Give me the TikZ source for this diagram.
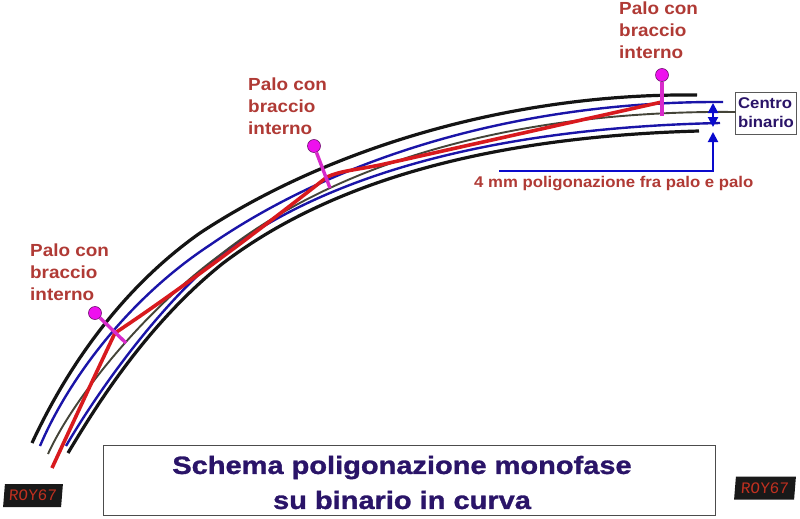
\documentclass[tikz,border=0pt]{standalone}
\usepackage{fontspec}
\setmainfont{Liberation Sans}
\newfontfamily\labfont{Liberation Sans Bold}[FakeStretch=1.08]
\newfontfamily\titlefont{Liberation Sans Bold}[FakeStretch=1.16,FakeBold=1.2]
\newfontfamily\ledfont{Liberation Mono}
\usetikzlibrary{arrows.meta}
\definecolor{railblack}{HTML}{141414}
\definecolor{railblue}{HTML}{1A14A8}
\definecolor{railgray}{HTML}{444438}
\definecolor{polyred}{HTML}{D81A1E}
\definecolor{postmag}{HTML}{D82ACB}
\definecolor{headmag}{HTML}{EE10EE}
\definecolor{headedge}{HTML}{701070}
\definecolor{labelred}{HTML}{B03A35}
\definecolor{navy}{HTML}{2A1468}
\definecolor{arrowblue}{HTML}{0A0ACD}
\definecolor{ledred}{HTML}{C03020}
\tikzset{
  x=1pt,y=-1pt,
  rail/.style={line width=3.2pt,railblack},
  bluerail/.style={line width=2.4pt,railblue},
  centre/.style={line width=1.9pt,railgray},
  poly/.style={line width=3.6pt,polyred,line join=round},
  post/.style={line width=3.4pt,postmag},
  head/.style={circle,draw=headedge,line width=.6pt,fill=headmag,minimum size=13pt,inner sep=0pt},
  lab/.style={font=\fontsize{17.5pt}{22pt}\labfont,text=labelred,align=left,anchor=north west,inner sep=0pt},
  dim/.style={line width=2pt,arrowblue},
  tip/.style={-{Triangle[length=10pt,width=10pt]}},
  led/.style={fill=black!90,text=ledred,font=\fontsize{16pt}{16pt}\ledfont,inner sep=0pt,minimum height=23pt,minimum width=58pt,xslant=.08,transform shape},
}
\begin{document}
\begin{tikzpicture}
\useasboundingbox (0,0) rectangle (800,519);
\fill[white] (0,0) rectangle (800,519);
% rails
\draw[rail] (32,443) .. controls (65,372) and (118,291) .. (200,233) .. controls (335,144) and (520,93) .. (697,95);
\draw[rail] (68,453) .. controls (95,408) and (145,326) .. (222,264) .. controls (345,170) and (520,136) .. (699,131);
\draw[bluerail] (40,446) .. controls (68,380) and (128,299) .. (210,245) .. controls (345,152) and (530,101) .. (723,102);
\draw[bluerail] (66,446) .. controls (88,408) and (147,318) .. (217,258) .. controls (340,162) and (530,127) .. (720,123);
\node[draw=black!65,line width=.8pt,minimum width=61pt,minimum height=42pt,inner sep=0pt,align=left,text=navy,font=\fontsize{15.5pt}{19pt}\labfont,fill=white] (cb) at (766,113) {Centro\\binario};
\draw[centre] (48,454) .. controls (74,397) and (145,310) .. (220,255) .. controls (345,156) and (530,110) .. (735.5,112);
% polygonation
\coordinate (p0) at (52,468);
\coordinate (p1) at (115,333);
\coordinate (p2) at (327,177);
\coordinate (p2b) at (380,165);
\coordinate (p3) at (662,102);
\draw[poly] (p0) .. controls (65,440) and (95,375) .. (p1) .. controls (180,290) and (270,222) .. (p2) .. controls (340,171) and (355,170) .. (p2b) -- (p3);
% posts
\node[head] (h1) at (95,313) {};
\node[head] (h2) at (314,146) {};
\node[head] (h3) at (662,75) {};
\coordinate (f1) at (126,343);
\coordinate (f2) at (330,188);
\coordinate (f3) at (662,116);
\draw[post] (h1) -- (f1);
\draw[post] (h2) -- (f2);
\draw[post] (h3) -- (f3);
% labels
\node[lab] (l1) at (30,243.5) {Palo con\\braccio\\interno};
\node[lab] (l2) at (248,78) {Palo con\\braccio\\interno};
\node[lab] (l3) at (619,1.5) {Palo con\\braccio\\interno};
\node[lab,anchor=west,font=\fontsize{15.5pt}{18pt}\labfont] (l4) at (474,184) {4 mm poligonazione fra palo e palo};
% dimension arrows
\coordinate (a0) at (713,114);
\coordinate (a1) at (713,103);
\coordinate (a2) at (713,127);
\coordinate (a3) at (499,170.5);
\coordinate (a4) at (713,170.5);
\coordinate (a5) at (713,132);
\draw[dim,tip] (a0) -- (a1);
\draw[dim,tip] (a0) -- (a2);
\draw[dim,tip] (a3) -- (a4) -- (a5);
% title
\node[draw=black!70,line width=.8pt,minimum width=612pt,minimum height=70pt,inner sep=0pt] (title) at (409,480.5) {};
\node[align=center,text=navy,font=\fontsize{25pt}{35pt}\titlefont,inner sep=0pt] (titletext) at (402,482.5) {Schema poligonazione monofase\\su binario in curva};
% LED tags
\node[led] (r1) at (33,495.5) {ROY67};
\node[led,minimum width=60pt] (r2) at (765,488) {ROY67};
\end{tikzpicture}
\end{document}
